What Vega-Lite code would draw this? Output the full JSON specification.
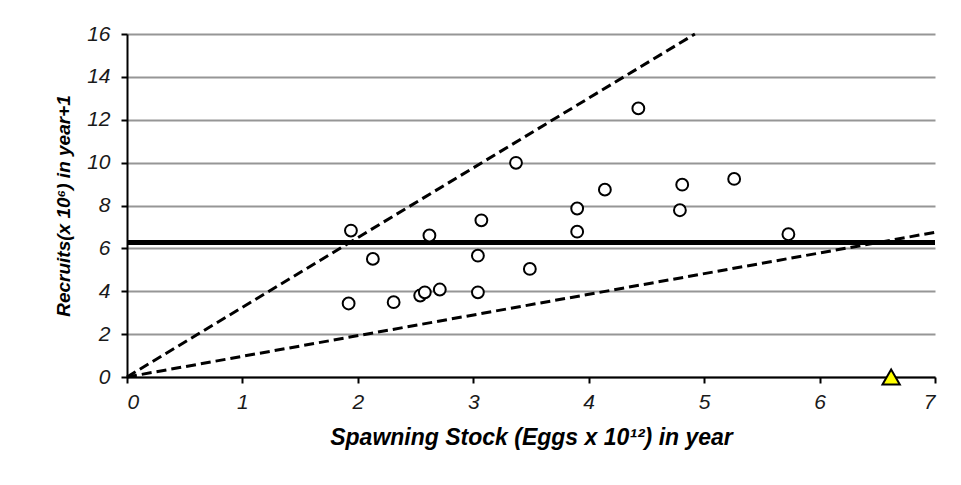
{
  "$schema": "https://vega.github.io/schema/vega-lite/v6.json",
  "width": 808,
  "height": 343,
  "autosize": {"type": "none"},
  "padding": {"left": 127, "top": 34, "right": 26, "bottom": 108},
  "background": "white",
  "config": {
    "view": {"stroke": null},
    "font": "Liberation Sans",
    "axis": {
      "domainColor": "black",
      "domainWidth": 2,
      "tickColor": "black",
      "tickWidth": 2,
      "tickSize": 6,
      "labelFont": "Liberation Sans",
      "labelFontStyle": "italic",
      "labelColor": "#1a1a1a",
      "titleFont": "Liberation Sans",
      "titleFontStyle": "italic",
      "titleFontWeight": "bold",
      "titleColor": "black"
    }
  },
  "datasets": {
    "stock": [
      {"eggs": 1.94, "recruits": 6.83},
      {"eggs": 1.92, "recruits": 3.43},
      {"eggs": 2.13, "recruits": 5.51},
      {"eggs": 2.31, "recruits": 3.49},
      {"eggs": 2.54, "recruits": 3.8},
      {"eggs": 2.58, "recruits": 3.95},
      {"eggs": 2.71, "recruits": 4.08},
      {"eggs": 2.62, "recruits": 6.6},
      {"eggs": 3.07, "recruits": 7.31},
      {"eggs": 3.04, "recruits": 5.66},
      {"eggs": 3.04, "recruits": 3.95},
      {"eggs": 3.37, "recruits": 9.99},
      {"eggs": 3.49, "recruits": 5.04},
      {"eggs": 3.9, "recruits": 7.86},
      {"eggs": 3.9, "recruits": 6.78},
      {"eggs": 4.14, "recruits": 8.74},
      {"eggs": 4.43, "recruits": 12.53},
      {"eggs": 4.81, "recruits": 8.97},
      {"eggs": 4.79, "recruits": 7.78},
      {"eggs": 5.26, "recruits": 9.24},
      {"eggs": 5.73, "recruits": 6.66}
    ],
    "lines": [
      {"line": "high", "eggs": 0, "recruits": 0},
      {"line": "high", "eggs": 4.92, "recruits": 16},
      {"line": "low", "eggs": 0, "recruits": 0},
      {"line": "low", "eggs": 7, "recruits": 6.75}
    ],
    "mean": [{"recruits": 6.27}],
    "marker": [{"eggs": 6.62, "recruits": 0}]
  },
  "layer": [
    {
      "data": {"name": "mean"},
      "mark": {"type": "rule", "color": "black", "strokeWidth": 5},
      "encoding": {
        "y": {
          "field": "recruits",
          "type": "quantitative",
          "scale": {"domain": [0, 16], "nice": false},
          "axis": {
            "values": [0, 2, 4, 6, 8, 10, 12, 14, 16],
            "grid": true,
            "gridColor": "#969696",
            "gridWidth": 2,
            "labelFontSize": 21,
            "labelPadding": 11,
            "titlePadding": 13,
            "titleFontSize": 19,
            "title": "Recruits(x 10⁶) in year+1"
          }
        }
      }
    },
    {
      "data": {"name": "lines"},
      "mark": {"type": "line", "color": "black", "strokeWidth": 3, "strokeDash": [10, 5]},
      "encoding": {
        "x": {
          "field": "eggs",
          "type": "quantitative",
          "scale": {"domain": [0, 7], "nice": false},
          "axis": {
            "values": [0, 1, 2, 3, 4, 5, 6, 7],
            "format": "d",
            "grid": false,
            "labelFontSize": 21,
            "labelPadding": 8,
            "titlePadding": 14,
            "titleFontSize": 23,
            "title": "Spawning Stock (Eggs x 10¹²) in year"
          }
        },
        "y": {"field": "recruits", "type": "quantitative"},
        "detail": {"field": "line"}
      }
    },
    {
      "data": {"name": "stock"},
      "mark": {"type": "point", "shape": "circle", "filled": false, "fill": "white", "fillOpacity": 1, "stroke": "black", "strokeWidth": 2, "size": 140, "opacity": 1},
      "encoding": {
        "x": {"field": "eggs", "type": "quantitative"},
        "y": {"field": "recruits", "type": "quantitative"}
      }
    },
    {
      "data": {"name": "marker"},
      "mark": {"type": "point", "shape": "triangle-up", "filled": true, "fill": "#ffff00", "stroke": "black", "strokeWidth": 2, "size": 300, "opacity": 1, "clip": false},
      "encoding": {
        "x": {"field": "eggs", "type": "quantitative"},
        "y": {"field": "recruits", "type": "quantitative"}
      }
    }
  ]
}
